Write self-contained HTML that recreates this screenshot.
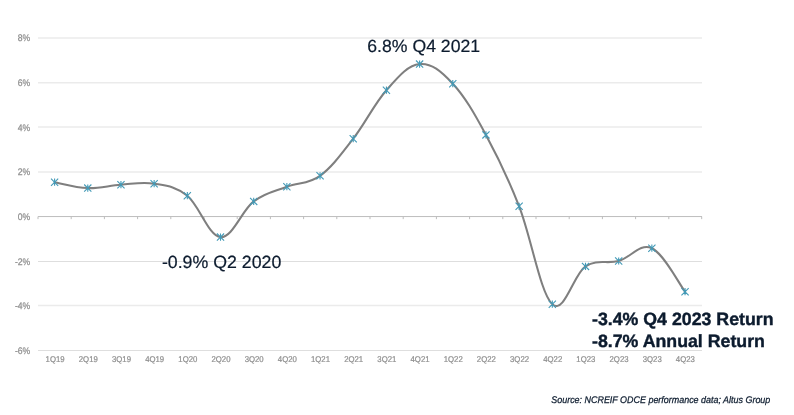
<!DOCTYPE html><html><head><meta charset="utf-8"><style>
html,body{margin:0;padding:0;background:#fff}
body{width:794px;height:415px;overflow:hidden}
svg{display:block;will-change:transform;font-family:"Liberation Sans",sans-serif;text-rendering:geometricPrecision}
</style></head><body>
<svg width="794" height="415" viewBox="0 0 794 415">
<line x1="38.0" x2="702.0" y1="37.90" y2="37.90" stroke="#ebebeb" stroke-width="1.5"/>
<line x1="38.0" x2="702.0" y1="82.85" y2="82.85" stroke="#ebebeb" stroke-width="1.5"/>
<line x1="38.0" x2="702.0" y1="127.10" y2="127.10" stroke="#ebebeb" stroke-width="1.5"/>
<line x1="38.0" x2="702.0" y1="171.95" y2="171.95" stroke="#ebebeb" stroke-width="1.5"/>
<line x1="38.0" x2="702.0" y1="261.50" y2="261.50" stroke="#dedede" stroke-width="1.0"/>
<line x1="38.0" x2="702.0" y1="305.55" y2="305.55" stroke="#ebebeb" stroke-width="1.5"/>
<line x1="38.0" x2="702.0" y1="350.50" y2="350.50" stroke="#dedede" stroke-width="1.0"/>
<g stroke="#bdbdbd"><line x1="38.0" x2="702.0" y1="216.55" y2="216.55" stroke-width="1.0"/>
<line x1="38.00" x2="38.00" y1="216.55" y2="219.15" stroke-width="1"/>
<line x1="71.20" x2="71.20" y1="216.55" y2="219.15" stroke-width="1"/>
<line x1="104.40" x2="104.40" y1="216.55" y2="219.15" stroke-width="1"/>
<line x1="137.60" x2="137.60" y1="216.55" y2="219.15" stroke-width="1"/>
<line x1="170.80" x2="170.80" y1="216.55" y2="219.15" stroke-width="1"/>
<line x1="204.00" x2="204.00" y1="216.55" y2="219.15" stroke-width="1"/>
<line x1="237.20" x2="237.20" y1="216.55" y2="219.15" stroke-width="1"/>
<line x1="270.40" x2="270.40" y1="216.55" y2="219.15" stroke-width="1"/>
<line x1="303.60" x2="303.60" y1="216.55" y2="219.15" stroke-width="1"/>
<line x1="336.80" x2="336.80" y1="216.55" y2="219.15" stroke-width="1"/>
<line x1="370.00" x2="370.00" y1="216.55" y2="219.15" stroke-width="1"/>
<line x1="403.20" x2="403.20" y1="216.55" y2="219.15" stroke-width="1"/>
<line x1="436.40" x2="436.40" y1="216.55" y2="219.15" stroke-width="1"/>
<line x1="469.60" x2="469.60" y1="216.55" y2="219.15" stroke-width="1"/>
<line x1="502.80" x2="502.80" y1="216.55" y2="219.15" stroke-width="1"/>
<line x1="536.00" x2="536.00" y1="216.55" y2="219.15" stroke-width="1"/>
<line x1="569.20" x2="569.20" y1="216.55" y2="219.15" stroke-width="1"/>
<line x1="602.40" x2="602.40" y1="216.55" y2="219.15" stroke-width="1"/>
<line x1="635.60" x2="635.60" y1="216.55" y2="219.15" stroke-width="1"/>
<line x1="668.80" x2="668.80" y1="216.55" y2="219.15" stroke-width="1"/>
<line x1="701.70" x2="701.70" y1="216.55" y2="219.15" stroke-width="1"/>
</g>
<path d="M54.60,182.20 C60.57,183.26 75.84,187.65 87.78,188.10 C99.73,188.55 109.02,185.49 120.96,184.70 C132.91,183.91 142.20,181.72 154.14,183.70 C166.09,185.68 175.38,186.09 187.33,195.70 C199.27,205.31 208.56,236.07 220.51,237.10 C232.45,238.13 241.74,210.47 253.69,201.40 C265.63,192.33 274.93,191.31 286.87,186.70 C298.82,182.09 308.11,184.44 320.05,175.80 C332.00,167.16 341.29,154.11 353.23,138.70 C365.18,123.29 374.47,103.63 386.42,90.20 C398.36,76.77 407.65,65.27 419.60,64.10 C431.54,62.93 440.83,70.96 452.78,83.70 C464.72,96.44 474.02,112.83 485.96,134.90 C497.91,156.97 507.20,175.83 519.14,206.30 C531.09,236.77 540.38,293.38 552.32,304.20 C564.27,315.02 573.56,274.18 585.51,266.40 C597.45,258.62 606.74,264.28 618.69,261.00 C630.63,257.72 639.92,242.67 651.87,248.20 C663.81,253.73 679.08,283.87 685.05,291.70" fill="none" stroke="#7f7f7f" stroke-width="2.05" stroke-linecap="round" stroke-linejoin="round"/>
<path d="M51.00,178.60L58.20,185.80M51.00,185.80L58.20,178.60M54.60,178.60L54.60,185.80M84.18,184.50L91.38,191.70M84.18,191.70L91.38,184.50M87.78,184.50L87.78,191.70M117.36,181.10L124.56,188.30M117.36,188.30L124.56,181.10M120.96,181.10L120.96,188.30M150.54,180.10L157.74,187.30M150.54,187.30L157.74,180.10M154.14,180.10L154.14,187.30M183.73,192.10L190.93,199.30M183.73,199.30L190.93,192.10M187.33,192.10L187.33,199.30M216.91,233.50L224.11,240.70M216.91,240.70L224.11,233.50M220.51,233.50L220.51,240.70M250.09,197.80L257.29,205.00M250.09,205.00L257.29,197.80M253.69,197.80L253.69,205.00M283.27,183.10L290.47,190.30M283.27,190.30L290.47,183.10M286.87,183.10L286.87,190.30M316.45,172.20L323.65,179.40M316.45,179.40L323.65,172.20M320.05,172.20L320.05,179.40M349.63,135.10L356.83,142.30M349.63,142.30L356.83,135.10M353.23,135.10L353.23,142.30M382.82,86.60L390.02,93.80M382.82,93.80L390.02,86.60M386.42,86.60L386.42,93.80M416.00,60.50L423.20,67.70M416.00,67.70L423.20,60.50M419.60,60.50L419.60,67.70M449.18,80.10L456.38,87.30M449.18,87.30L456.38,80.10M452.78,80.10L452.78,87.30M482.36,131.30L489.56,138.50M482.36,138.50L489.56,131.30M485.96,131.30L485.96,138.50M515.54,202.70L522.74,209.90M515.54,209.90L522.74,202.70M519.14,202.70L519.14,209.90M548.72,300.60L555.92,307.80M548.72,307.80L555.92,300.60M552.32,300.60L552.32,307.80M581.91,262.80L589.11,270.00M581.91,270.00L589.11,262.80M585.51,262.80L585.51,270.00M615.09,257.40L622.29,264.60M615.09,264.60L622.29,257.40M618.69,257.40L618.69,264.60M648.27,244.60L655.47,251.80M648.27,251.80L655.47,244.60M651.87,244.60L651.87,251.80M681.45,288.10L688.65,295.30M681.45,295.30L688.65,288.10M685.05,288.10L685.05,295.30" stroke="#439ab7" stroke-width="1.1" fill="none"/>
<g fill="#8f8f8f" stroke="#8f8f8f" stroke-width="0.25" font-size="9.5" text-anchor="end">
<text transform="translate(30.2,41.30) scale(0.905,1)">8%</text>
<text transform="translate(30.2,86.25) scale(0.905,1)">6%</text>
<text transform="translate(30.2,130.50) scale(0.905,1)">4%</text>
<text transform="translate(30.2,175.35) scale(0.905,1)">2%</text>
<text transform="translate(30.2,219.95) scale(0.905,1)">0%</text>
<text transform="translate(30.2,264.90) scale(0.905,1)">-2%</text>
<text transform="translate(30.2,308.95) scale(0.905,1)">-4%</text>
<text transform="translate(30.2,353.90) scale(0.905,1)">-6%</text>
</g>
<g fill="#8f8f8f" stroke="#8f8f8f" stroke-width="0.22" font-size="8.4" text-anchor="middle">
<text transform="translate(55.15,362.3) scale(0.93,1)">1Q19</text>
<text transform="translate(88.32,362.3) scale(0.93,1)">2Q19</text>
<text transform="translate(121.49,362.3) scale(0.93,1)">3Q19</text>
<text transform="translate(154.66,362.3) scale(0.93,1)">4Q19</text>
<text transform="translate(187.83,362.3) scale(0.93,1)">1Q20</text>
<text transform="translate(221.00,362.3) scale(0.93,1)">2Q20</text>
<text transform="translate(254.17,362.3) scale(0.93,1)">3Q20</text>
<text transform="translate(287.34,362.3) scale(0.93,1)">4Q20</text>
<text transform="translate(320.51,362.3) scale(0.93,1)">1Q21</text>
<text transform="translate(353.68,362.3) scale(0.93,1)">2Q21</text>
<text transform="translate(386.85,362.3) scale(0.93,1)">3Q21</text>
<text transform="translate(420.02,362.3) scale(0.93,1)">4Q21</text>
<text transform="translate(453.19,362.3) scale(0.93,1)">1Q22</text>
<text transform="translate(486.36,362.3) scale(0.93,1)">2Q22</text>
<text transform="translate(519.53,362.3) scale(0.93,1)">3Q22</text>
<text transform="translate(552.70,362.3) scale(0.93,1)">4Q22</text>
<text transform="translate(585.87,362.3) scale(0.93,1)">1Q23</text>
<text transform="translate(619.04,362.3) scale(0.93,1)">2Q23</text>
<text transform="translate(652.21,362.3) scale(0.93,1)">3Q23</text>
<text transform="translate(685.38,362.3) scale(0.93,1)">4Q23</text>
</g>
<g fill="#0c1b2e" stroke="#0c1b2e" stroke-width="0.2" font-size="17.75">
<text x="367.3" y="51.9" font-size="17.65">6.8% Q4 2021</text>
<text x="161.9" y="267.8">-0.9% Q2 2020</text>
<text x="592" y="325.3" font-weight="bold" stroke-width="0.4">-3.4% Q4 2023 Return</text>
<text x="592" y="347.1" font-weight="bold" stroke-width="0.4">-8.7% Annual Return</text>
</g>
<text transform="translate(770.3,403.3) scale(0.93,1)" fill="#0c1b2e" stroke="#0c1b2e" stroke-width="0.25" font-size="9.62" font-style="italic" text-anchor="end">Source: NCREIF ODCE performance data; Altus Group</text>
</svg>
</body></html>
